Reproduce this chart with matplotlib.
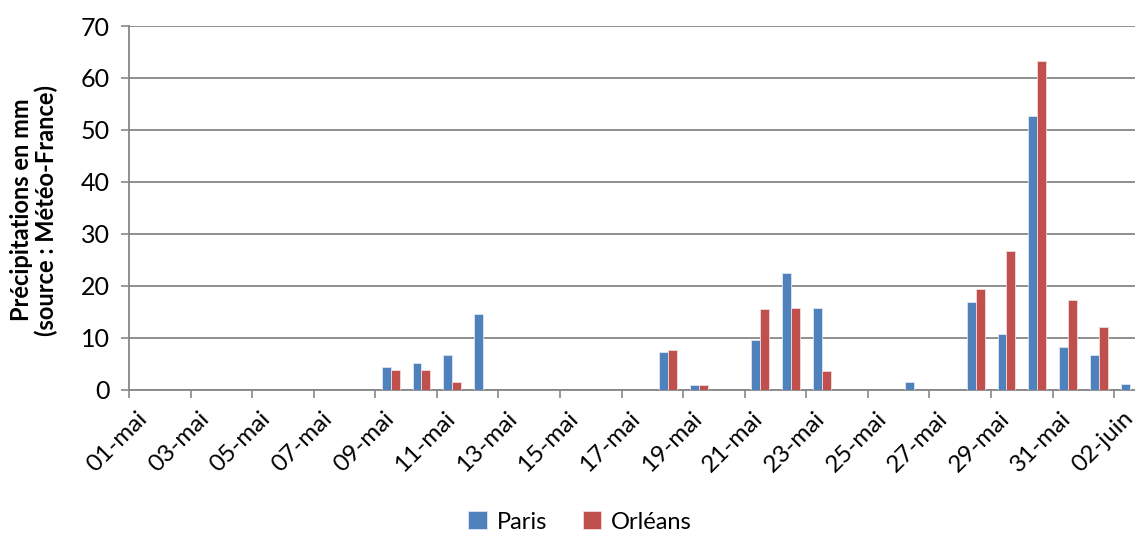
import matplotlib.pyplot as plt
import numpy as np

plt.rcParams['font.family'] = ['Lato', 'DejaVu Sans']

# daily rainfall, 01-mai .. 02-juin
days = ["%02d-mai" % d for d in range(1, 32)] + ["01-juin", "02-juin"]
paris = [0, 0, 0, 0, 0, 0, 0, 0, 4.3, 5.1, 6.6, 14.6, 0, 0, 0, 0, 0,
         7.3, 0.9, 0, 9.6, 22.4, 15.7, 0, 0, 1.4, 0, 16.8, 10.7, 52.7,
         8.2, 6.6, 1.1]
orleans = [0, 0, 0, 0, 0, 0, 0, 0, 3.7, 3.7, 1.4, 0, 0, 0, 0, 0, 0,
           7.7, 0.9, 0, 15.5, 15.7, 3.5, 0, 0, 0, 0, 19.3, 26.6, 63.2,
           17.2, 12.0, 0]

W, H = 1135, 534
fig = plt.figure(figsize=(W / 100, H / 100), dpi=100)
ax = fig.add_axes([129 / W, 1 - 389.5 / H, 1016 / W, 363.5 / H])

x = np.arange(len(days))
bw = 0.29
ax.bar(x - bw / 2, paris, bw, color='#4F81BD', edgecolor='#dce6f2',
       linewidth=0.6, label='Paris', zorder=3)
ax.bar(x + bw / 2, orleans, bw, color='#C0504D', edgecolor='#f2dcdb',
       linewidth=0.6, label='Orléans', zorder=3)

ax.set_xlim(-0.5, len(days) - 0.5)
ax.set_ylim(0, 70)
ax.set_yticks(range(0, 71, 10))
ax.yaxis.grid(True, color='#878787', linewidth=1.3, zorder=0)
ax.tick_params(axis='y', labelsize=18, length=6, width=1.2,
               color='#878787', pad=8)

# ticks between categories every 2 days, labels on every other day
ax.set_xticks(np.arange(-0.5, len(days), 2))
ax.set_xticklabels([])
ax.set_xticks(x[::2] - 0.25, minor=True)
ax.set_xticklabels(days[::2], minor=True, rotation=45, ha='right',
                   rotation_mode='anchor', fontsize=17.5)
ax.tick_params(axis='x', which='major', length=6, width=1.2,
               color='#878787')
ax.tick_params(axis='x', which='minor', length=0, pad=13)

for s in ['top', 'right']:
    ax.spines[s].set_visible(False)
for s in ['left', 'bottom']:
    ax.spines[s].set_color('#878787')
    ax.spines[s].set_linewidth(1.3)

fig.text(34 / W, 1 - 210 / H,
         "Précipitations en mm\n(source : Météo-France)",
         rotation=90, ha='center', va='center', ma='center',
         fontsize=17, fontweight='bold', linespacing=1.1)

fig.legend(loc='center', bbox_to_anchor=(580 / W, 1 - 522 / H), ncol=2,
           frameon=False, fontsize=17, handlelength=0.8, handleheight=0.8,
           handletextpad=0.4, columnspacing=1.5)

fig.savefig('out.png', dpi=100)
